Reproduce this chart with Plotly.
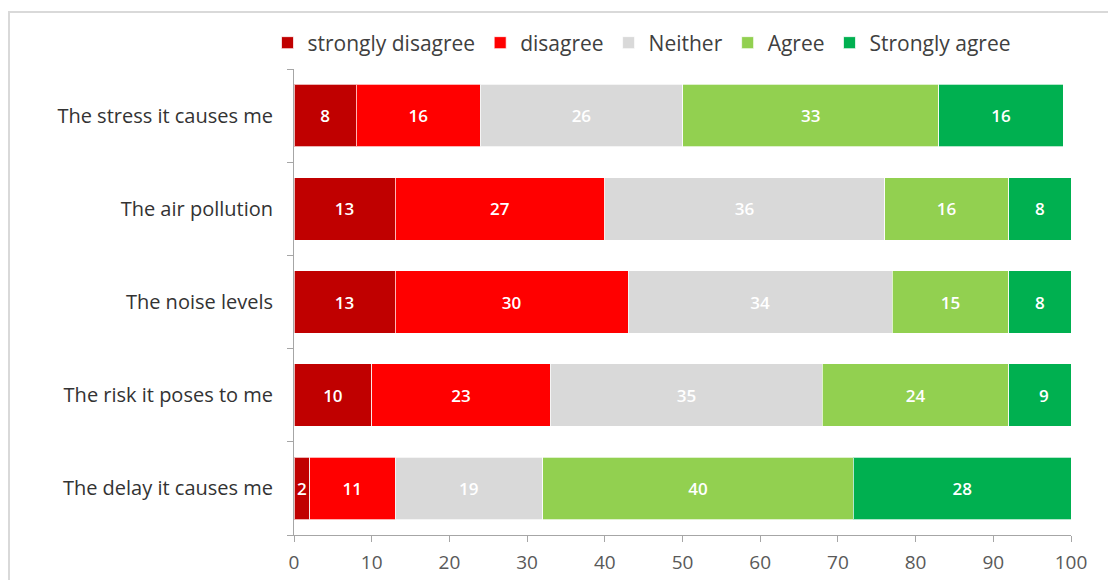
import plotly.graph_objects as go

# Survey items (top to bottom) and response shares in percent
categories = [
    "The stress it causes me",
    "The air pollution",
    "The noise levels",
    "The risk it poses to me",
    "The delay it causes me",
]
responses = ["strongly disagree", "disagree", "Neither", "Agree", "Strongly agree"]
strongly_disagree = [8, 13, 13, 10, 2]
disagree = [16, 27, 30, 23, 11]
neither = [26, 36, 34, 35, 19]
agree = [33, 16, 15, 24, 40]
strongly_agree = [16, 8, 8, 9, 28]
x_ticks = [0, 10, 20, 30, 40, 50, 60, 70, 80, 90, 100]

series = [strongly_disagree, disagree, neither, agree, strongly_agree]
colors = ["#C00000", "#FF0000", "#D9D9D9", "#92D050", "#00B050"]

FONT = "Open Sans"

fig = go.Figure()
for name, vals, col in zip(responses, series, colors):
    fig.add_trace(go.Bar(
        y=categories,
        x=vals,
        name=name,
        orientation="h",
        marker=dict(color=col, line=dict(color="rgba(255,255,255,0.7)", width=1)),
        text=[str(v) for v in vals],
        textposition="inside",
        insidetextanchor="middle",
        textangle=0,
        constraintext="none",
        textfont=dict(family=FONT, size=17, color="white", weight=600),
        hoverinfo="x+y+name",
    ))

# plot area in pixels: x 294..1071, y 69..535
W, H = 1108, 580
L, R, T, B = 294, 1071, 69, 535
pw, ph = R - L, B - T

def px_x(p):
    return (p - L) / pw

def px_y(p):
    return (B - p) / ph

fig.update_layout(
    width=W,
    height=H,
    barmode="stack",
    bargap=0.33,
    margin=dict(l=L, r=W - R, t=T, b=H - B, autoexpand=False),
    paper_bgcolor="white",
    plot_bgcolor="white",
    font=dict(family=FONT, color="#404040"),
    uniformtext=dict(minsize=8, mode="show"),
    legend=dict(
        orientation="h",
        x=px_x(642),
        xanchor="center",
        y=px_y(43),
        yanchor="middle",
        font=dict(family=FONT, size=21, color="#404040"),
        traceorder="normal",
        itemwidth=30,
        bgcolor="rgba(0,0,0,0)",
    ),
    xaxis=dict(
        range=[0, 100],
        tickvals=x_ticks,
        ticks="outside",
        ticklen=6,
        tickcolor="#A6A6A6",
        showline=True,
        linecolor="#A6A6A6",
        linewidth=1,
        showgrid=False,
        zeroline=False,
        ticklabelstandoff=4,
        tickfont=dict(family=FONT, size=19, color="#595959"),
    ),
    yaxis=dict(
        categoryorder="array",
        categoryarray=categories[::-1],
        tickson="boundaries",
        ticks="outside",
        ticklen=6,
        tickcolor="#A6A6A6",
        showline=True,
        linecolor="#A6A6A6",
        linewidth=1,
        showgrid=False,
        ticklabelstandoff=16,
        tickfont=dict(family=FONT, size=20, color="#333333"),
    ),
    shapes=[
        dict(
            type="rect",
            xref="paper",
            yref="paper",
            x0=px_x(9),
            x1=px_x(1120),
            y0=px_y(600),
            y1=px_y(12),
            line=dict(color="#D9D9D9", width=2),
            fillcolor="rgba(0,0,0,0)",
            layer="below",
        )
    ],
)

fig.write_html("out.html")
